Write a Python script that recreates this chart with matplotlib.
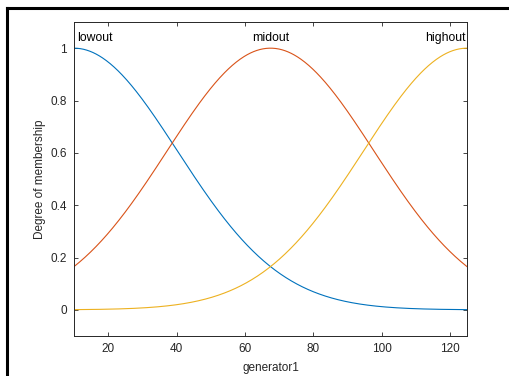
import numpy as np
import matplotlib.pyplot as plt
from matplotlib.lines import Line2D

# 隶属函数参数（gaussmf: sigma, center）
mf_names = ['lowout', 'midout', 'highout']
mf_sigmas = [30.3, 30.3, 30.3]
mf_centers = [10, 67.5, 125]
x_range = [10, 125]
x_ticks = [20, 40, 60, 80, 100, 120]
y_ticks = [0, 0.2, 0.4, 0.6, 0.8, 1]
y_ticklabels = ['0', '0.2', '0.4', '0.6', '0.8', '1']

colors = ['#0072BD', '#D95319', '#EDB120']
axis_color = '#262626'

plt.rcParams['font.family'] = ['Liberation Sans', 'DejaVu Sans']

def gaussmf(x, sigma, c):
    return np.exp(-(x - c) ** 2 / (2 * sigma ** 2))

fig = plt.figure(figsize=(5.09, 3.76), dpi=100)
ax = fig.add_axes([74 / 509, 1 - 336 / 376, (467 - 74) / 509, (336 - 22) / 376])

x = np.linspace(x_range[0], x_range[1], 500)
for i, name in enumerate(mf_names):
    ax.plot(x, gaussmf(x, mf_sigmas[i], mf_centers[i]), color=colors[i], lw=0.8)
    # 标签位置：两端对齐到边，中间居中
    if i == 0:
        ha = 'left'
        tx = mf_centers[i] + 0.8
    elif i == len(mf_names) - 1:
        ha = 'right'
        tx = mf_centers[i] - 0.5
    else:
        ha = 'center'
        tx = mf_centers[i]
    ax.text(tx, 1.015, name, ha=ha, va='bottom', fontsize=8.8, color='black')

ax.set_xlim(x_range)
ax.set_ylim(-0.1, 1.1)
ax.set_xticks(x_ticks)
ax.set_yticks(y_ticks)
ax.set_yticklabels(y_ticklabels)
ax.tick_params(direction='in', top=True, right=True, length=3, width=0.6,
               colors=axis_color, labelsize=8.5, pad=5)
for sp in ax.spines.values():
    sp.set_color(axis_color)
    sp.set_linewidth(0.7)

ax.set_xlabel('generator1', fontsize=8.5, color=axis_color, labelpad=5)
ax.set_ylabel('Degree of membership', fontsize=8.5, color=axis_color, labelpad=3)

# 外框（上、左黑线）
fig.add_artist(Line2D([6.5 / 509, 1], [1 - 8 / 376, 1 - 8 / 376], color='black', lw=2.2,
                      transform=fig.transFigure))
fig.add_artist(Line2D([6.5 / 509, 6.5 / 509], [0, 1 - 8 / 376], color='black', lw=2.2,
                      transform=fig.transFigure))

fig.savefig('out.png', dpi=100)
